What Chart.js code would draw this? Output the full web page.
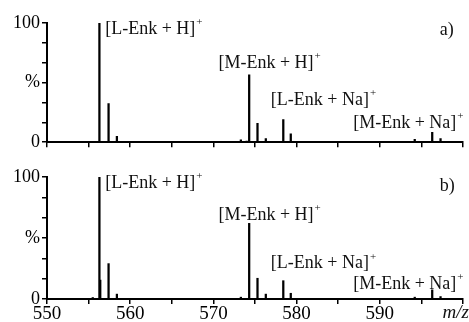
<!DOCTYPE html>
<html>
<head>
<meta charset="utf-8">
<script src="https://cdn.jsdelivr.net/npm/chart.js@4.4.0/dist/chart.umd.min.js"></script>
<style>
  html, body { margin: 0; padding: 0; background: #fff; }
  .panel { position: relative; width: 469px; }
  #topPanel { height: 155px; }
  #bottomPanel { height: 167px; }
</style>
</head>
<body>
<div class="panel" id="topPanel"><canvas id="chartA"></canvas></div>
<div class="panel" id="bottomPanel"><canvas id="chartB"></canvas></div>
<script>
// ---- data ----
const mzTicks = [550, 555, 560, 565, 570, 575, 580, 585, 590, 595, 600];
const mzLabels = [550, 560, 570, 580, 590];
const yTickVals = [0, 16.67, 33.33, 50, 66.67, 83.33, 100];
const yTickText = ['0', '', '', '%', '', '', '100'];

// panel a)
const mzA  = [556.3, 557.4, 558.4, 573.3, 574.0, 574.3, 575.3, 576.3, 578.4, 579.3, 594.2, 596.3, 597.3];
const intA = [100,   32.5,  5,     2,     1,     56.5,  15.8,  3,     19,    7,     2.5,   8.3,   3];

// panel b)
const mzB  = [555.5, 556.3, 556.4, 557.4, 558.4, 573.3, 574.3, 575.3, 576.3, 578.4, 579.3, 594.2, 596.3, 597.3];
const intB = [1.2,   100,   15.5,  29,    4,     1.5,   62,    17,    4,     15,    4.7,   1.5,   7.5,   2];

const ionNames = ['[L-Enk + H]', '[M-Enk + H]', '[L-Enk + Na]', '[M-Enk + Na]'];
// label anchors (m/z, %)
const ionPosA = [[557.0, 95], [570.6, 66], [576.9, 35], [586.8, 16]];
const ionPosB = [[557.0, 95], [570.6, 69], [576.9, 29], [586.8, 12]];

const serif = '"Liberation Serif", "Times New Roman", serif';

// draws ion labels and panel letter
const ionLabels = {
  id: 'ionLabels',
  afterDatasetsDraw(chart, args, opts) {
    const { ctx, scales: { x, y } } = chart;
    ctx.save();
    ctx.fillStyle = '#111';
    ctx.textAlign = 'left';
    ctx.textBaseline = 'middle';
    opts.pos.forEach((p, i) => {
      const px = x.getPixelForValue(p[0]);
      const py = y.getPixelForValue(p[1]);
      ctx.font = '18px ' + serif;
      ctx.fillText(ionNames[i], px, py);
      const w = ctx.measureText(ionNames[i]).width;
      ctx.font = '11px ' + serif;
      ctx.fillText('+', px + w + 1, py - 7);
    });
    ctx.font = '18px ' + serif;
    ctx.fillText(opts.letter, x.getPixelForValue(opts.letterPos[0]), y.getPixelForValue(opts.letterPos[1]));
    if (opts.axisTitle) {
      ctx.font = 'italic 19px ' + serif;
      ctx.textAlign = 'right';
      ctx.fillText('m/z', chart.width, x.top + 14);
    }
    ctx.restore();
  }
};

function makeChart(id, mz, ints, pos, letter, letterPos, bottom) {
  const ctx = document.getElementById(id).getContext('2d');
  return new Chart(ctx, {
    type: 'bar',
    data: {
      datasets: [{
        data: mz.map((v, i) => ({ x: v, y: ints[i] })),
        backgroundColor: '#000',
        barThickness: 1.6,
        grouped: false
      }]
    },
    options: {
      responsive: true,
      maintainAspectRatio: false,
      animation: false,
      layout: { padding: { top: bottom ? 22 : 23, right: 6, left: 0, bottom: 0 } },
      scales: {
        x: {
          type: 'linear',
          offset: false,
          min: 550,
          max: 600,
          afterBuildTicks: s => { s.ticks = mzTicks.map(v => ({ value: v })); },
          afterFit: s => { s.height = bottom ? 23 : 10; },
          border: { color: '#000', width: 2 },
          grid: { offset: false, drawOnChartArea: false, tickLength: 5, color: '#000', lineWidth: 1.5 },
          ticks: {
            display: bottom,
            autoSkip: false,
            maxRotation: 0,
            padding: -1,
            color: '#000',
            font: { family: serif, size: 19 },
            callback: v => mzLabels.includes(v) ? String(v) : ''
          }
        },
        y: {
          min: 0,
          max: 100,
          afterBuildTicks: s => { s.ticks = yTickVals.map(v => ({ value: v })); },
          afterFit: s => { s.width = 47; },
          border: { color: '#000', width: 2 },
          grid: { drawOnChartArea: false, tickLength: 5, color: '#000', lineWidth: 1.5 },
          ticks: {
            autoSkip: false,
            padding: 2,
            color: '#000',
            font: { family: serif, size: 18 },
            callback: (v, i) => yTickText[i]
          }
        }
      },
      plugins: {
        legend: { display: false },
        tooltip: { enabled: false },
        ionLabels: { pos: pos, letter: letter, letterPos: letterPos, axisTitle: bottom }
      }
    },
    plugins: [ionLabels]
  });
}

makeChart('chartA', mzA, intA, ionPosA, 'a)', [597.2, 94], false);
makeChart('chartB', mzB, intB, ionPosB, 'b)', [597.2, 92], true);
</script>
</body>
</html>
